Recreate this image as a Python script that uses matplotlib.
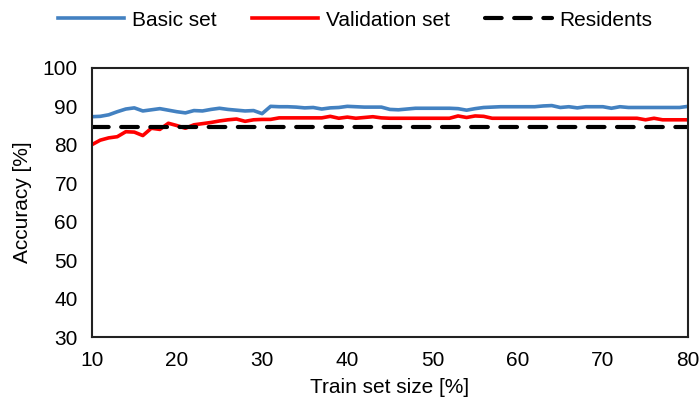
import matplotlib
matplotlib.use('Agg')

import matplotlib.pyplot as plt
import numpy as np

# ==========================================
# DATA
# ==========================================
train_size = list(range(10, 81))

basic_set = [87.3, 87.4, 87.8, 88.6, 89.3, 89.6, 88.8, 89.1, 89.4, 89.0,
             88.6, 88.3, 88.9, 88.8, 89.2, 89.5, 89.2, 89.0, 88.8, 88.9,
             88.1, 90.0, 89.9, 89.9, 89.8, 89.6, 89.7, 89.3, 89.6, 89.7,
             90.0, 89.9, 89.8, 89.8, 89.8, 89.2, 89.1, 89.3, 89.5, 89.5,
             89.5, 89.5, 89.5, 89.4, 89.0, 89.4, 89.7, 89.8, 89.9, 89.9,
             89.9, 89.9, 89.9, 90.1, 90.2, 89.7, 89.9, 89.6, 89.9, 89.9,
             89.9, 89.5, 89.9, 89.7, 89.7, 89.7, 89.7, 89.7, 89.7, 89.7,
             90.0]

validation_set = [80.0, 81.2, 81.8, 82.1, 83.4, 83.3, 82.4, 84.3, 84.0, 85.6,
                  85.0, 84.3, 85.2, 85.5, 85.8, 86.2, 86.5, 86.7, 86.1, 86.5,
                  86.6, 86.6, 87.0, 87.0, 87.0, 87.0, 87.0, 87.0, 87.4, 86.9,
                  87.2, 86.9, 87.1, 87.3, 87.0, 86.9, 86.9, 86.9, 86.9, 86.9,
                  86.9, 86.9, 86.9, 87.5, 87.1, 87.5, 87.4, 86.9, 86.9, 86.9,
                  86.9, 86.9, 86.9, 86.9, 86.9, 86.9, 86.9, 86.9, 86.9, 86.9,
                  86.9, 86.9, 86.9, 86.9, 86.9, 86.5, 86.9, 86.5, 86.5, 86.5,
                  86.5]

residents = 84.5

xticks = [10, 20, 30, 40, 50, 60, 70, 80]
yticks = [30, 40, 50, 60, 70, 80, 90, 100]

# ==========================================
# FIGUR
# ==========================================
plt.rcParams['font.family'] = ['Liberation Sans', 'DejaVu Sans']

fig = plt.figure(figsize=(7, 4.09), dpi=100)
ax = fig.add_axes([0.131, 0.176, 0.852, 0.658])

ax.plot(train_size, basic_set, color='#4381C1', linewidth=2.6, label="Basic set")
ax.plot(train_size, validation_set, color='#FF0000', linewidth=2.6, label="Validation set")
ax.plot([train_size[0], train_size[-1]], [residents, residents], color='black',
        linewidth=3, linestyle=(0, (4, 3)), dash_capstyle='round', label="Residents")

ax.set_xlim(10, 80)
ax.set_ylim(30, 100)
ax.set_xticks(xticks)
ax.set_yticks(yticks)
ax.tick_params(axis='both', length=0, labelsize=15, pad=10)

for s in ax.spines.values():
    s.set_linewidth(1.5)
    s.set_color('#222222')

ax.set_xlabel("Train set size [%]", fontsize=15, labelpad=6)
ax.set_ylabel("Accuracy [%]", fontsize=15, labelpad=8)

fig.legend(loc='upper center', bbox_to_anchor=(0.507, 1.02), ncol=3, frameon=False,
           fontsize=15, handlelength=3.2, handletextpad=0.35, columnspacing=1.7)

plt.savefig("out.png", dpi=100)
plt.close()
